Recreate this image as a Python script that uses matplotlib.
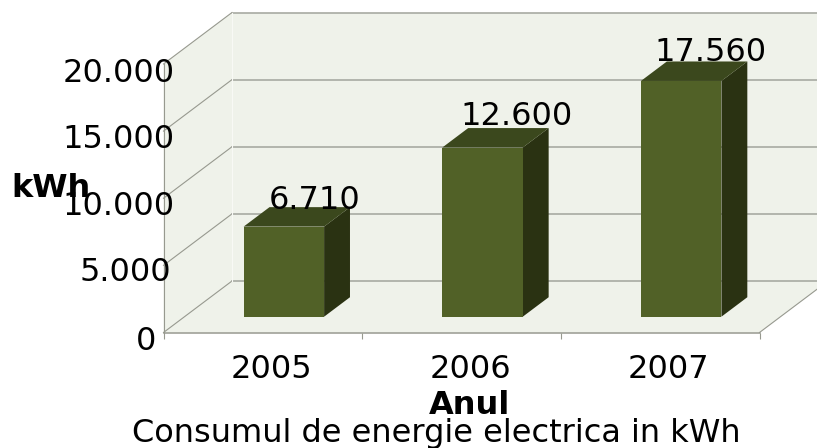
import matplotlib
matplotlib.use("Agg")
import matplotlib.pyplot as plt
from matplotlib.patches import Polygon

years = ["2005", "2006", "2007"]
consum = [6710, 12600, 17560]
value_labels = ["6.710", "12.600", "17.560"]
y_ticks = [0, 5000, 10000, 15000, 20000]
y_tick_labels = ["0", "5.000", "10.000", "15.000", "20.000"]

W, H = 817, 448
# front plane of the 3d box, in pixels
left, right, bottom, top = 163.5, 759.5, 332.5, 64.0
# how far the back wall is shifted, in data units
depth_x = 68.5 / (right - left) * 3
depth_y = 51.5 / (bottom - top) * 20000

WALL = "#eff2ea"
GRID = "#a8aaa2"
EDGE = "#97998f"
FRONT = "#516127"
TOP = "#3b481d"
SIDE = "#2a3212"


def pt(x, y, d=0.0):
    return (x + d * depth_x, y + d * depth_y)


fig = plt.figure(figsize=(W / 100, H / 100), dpi=100, facecolor="white")
ax = fig.add_axes([left / W, 1 - bottom / H, (right - left) / W, (bottom - top) / H])
ax.set_xlim(0, 3)
ax.set_ylim(0, 20000)
ax.patch.set_visible(False)
for s in ax.spines.values():
    s.set_visible(False)
ax.set_yticks([])
ax.set_xticks([0, 1, 2, 3])
ax.tick_params(axis="x", length=4.5, width=0.8, color=EDGE, labelbottom=False)

# walls and floor
ax.add_patch(Polygon([pt(0, 0), pt(0, 20000), pt(0, 20000, 1), pt(0, 0, 1)],
                     fc=WALL, ec="none", clip_on=False, zorder=1))
ax.add_patch(Polygon([pt(0, 0, 1), pt(0, 20000, 1), pt(3, 20000, 1), pt(3, 0, 1)],
                     fc=WALL, ec="none", clip_on=False, zorder=1))
ax.add_patch(Polygon([pt(0, 0), pt(3, 0), pt(3, 0, 1), pt(0, 0, 1)],
                     fc=WALL, ec="none", clip_on=False, zorder=1))

# grid lines on both walls
for v in y_ticks:
    ax.plot(*zip(pt(0, v), pt(0, v, 1)), color=EDGE, lw=0.8, clip_on=False, zorder=2)
    ax.plot(*zip(pt(0, v, 1), pt(3, v, 1)), color=GRID, lw=1.2, clip_on=False, zorder=2)
ax.plot(*zip(pt(0, 0, 1), pt(0, 20000, 1)), color="#f8f9f5", lw=0.8, clip_on=False, zorder=2)
ax.plot(*zip(pt(0, 0), pt(0, 20000)), color=EDGE, lw=0.8, clip_on=False, zorder=2)
ax.plot(*zip(pt(0, 0), pt(3, 0)), color=EDGE, lw=1.1, clip_on=False, zorder=2)
ax.plot(*zip(pt(3, 0), pt(3, 0, 1)), color=EDGE, lw=0.8, clip_on=False, zorder=2)

# the bars
bar_w = 0.405
d0, d1 = 0.307, 0.685
for i, v in enumerate(consum):
    x0 = i + 0.5 - bar_w / 2
    x1 = i + 0.5 + bar_w / 2
    ax.add_patch(Polygon([pt(x1, 0, d0), pt(x1, v, d0), pt(x1, v, d1), pt(x1, 0, d1)],
                         fc=SIDE, ec="none", clip_on=False, zorder=3))
    ax.add_patch(Polygon([pt(x0, v, d0), pt(x1, v, d0), pt(x1, v, d1), pt(x0, v, d1)],
                         fc=TOP, ec="none", clip_on=False, zorder=3))
    ax.add_patch(Polygon([pt(x0, 0, d0), pt(x1, 0, d0), pt(x1, v, d0), pt(x0, v, d0)],
                         fc=FRONT, ec="none", clip_on=False, zorder=4))

FS = 23

# value labels, offset in pixels from the top of the bar front face
label_off = [(31, 18), (34.5, 23), (29.5, 20)]
for i, v in enumerate(consum):
    ax.annotate(value_labels[i], xy=pt(i + 0.5, v, d0), xytext=label_off[i],
                textcoords="offset pixels", ha="center", va="baseline",
                fontsize=FS, color="black", annotation_clip=False, zorder=5)

# y labels do not line up exactly in the original
y_right = [156, 171, 175, 175, 175]
y_shift = [5.5, 3.6, 4.3, 4.5, 5.5]
for v, lab, xr, dy in zip(y_ticks, y_tick_labels, y_right, y_shift):
    ax.annotate(lab, xy=(0, v), xytext=(xr - left, -dy), textcoords="offset pixels",
                ha="right", va="center_baseline", fontsize=FS, annotation_clip=False, zorder=6)

for i, lab in enumerate(years):
    ax.annotate(lab, xy=(i + 0.5, 0), xytext=(8.5, -33), textcoords="offset pixels",
                ha="center", va="center_baseline", fontsize=FS, annotation_clip=False, zorder=6)

fig.text(470 / W, 1 - 414 / H, "Anul", ha="center", va="baseline",
         fontsize=FS, fontweight="bold")
fig.text(51 / W, 1 - 197 / H, "kWh", ha="center", va="baseline",
         fontsize=FS, fontweight="bold", zorder=7)
fig.text(436 / W, 1 - 442 / H, "Consumul de energie electrica in kWh", ha="center",
         va="baseline", fontsize=FS)

fig.savefig("out.png", dpi=100, facecolor="white")
